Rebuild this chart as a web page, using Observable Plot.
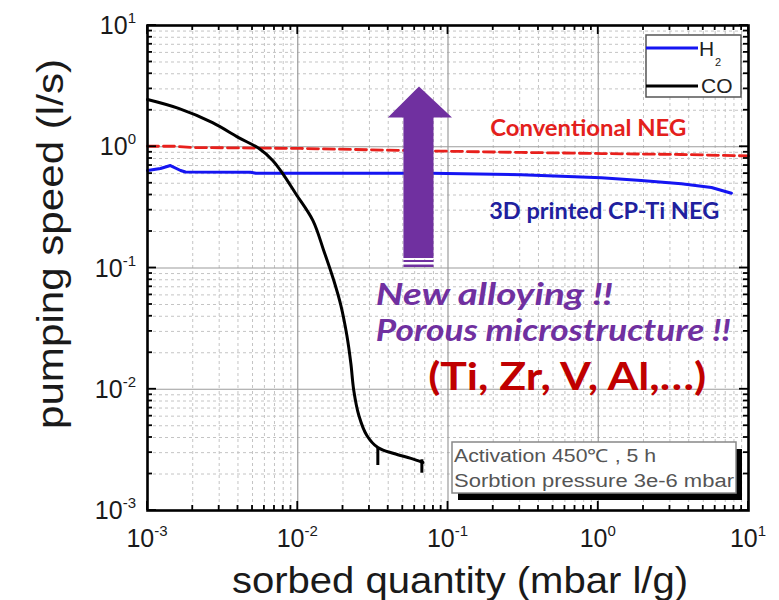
<!DOCTYPE html>
<html>
<head>
<meta charset="utf-8">
<script src="https://cdn.jsdelivr.net/npm/d3@7"></script>
<script src="https://cdn.jsdelivr.net/npm/@observablehq/plot@0.6"></script>
<style>
  body { margin: 0; background: #fff; }
  #chart { width: 779px; height: 600px; }
</style>
</head>
<body>
<div id="chart"></div>
<script>
// Decade exponents used for both log axes
const decadeExponents = [-3, -2, -1, 0, 1];
const minorSteps = [2, 3, 4, 5, 6, 7, 8, 9];

// CO pumping speed (l/s) vs sorbed quantity (mbar l/g)
const coQuantity = [0.001, 0.00161, 0.00271, 0.00404, 0.0055, 0.00681, 0.00794, 0.0097, 0.0126, 0.0149,
  0.01738, 0.01936, 0.02123, 0.02257, 0.0236, 0.02551, 0.02884, 0.03412, 0.04365, 0.05666, 0.06813];
const coSpeed = [2.45, 2.07, 1.58, 1.19, 0.97, 0.77, 0.60, 0.41, 0.247, 0.139,
  0.0788, 0.0491, 0.0277, 0.0163, 0.00977, 0.00608, 0.00416, 0.00331, 0.00295, 0.00269, 0.00249];

// Short drops at the end of the CO run
const coDropQuantity = [0.03412, 0.0670];
const coDropTop = [0.00331, 0.00262];
const coDropBottom = [0.00235, 0.00203];

// H2 on the 3D printed CP-Ti NEG
const h2Quantity = [0.001, 0.00122, 0.00142, 0.00166, 0.00179, 0.00486, 0.00525, 0.077, 0.307, 0.567, 1.047, 1.93, 3.57, 5.67, 7.70];
const h2Speed = [0.637, 0.662, 0.70, 0.637, 0.619, 0.617, 0.605, 0.605, 0.587, 0.572, 0.554, 0.527, 0.495, 0.461, 0.414];

// H2 on a conventional NEG
const convQuantity = [0.001, 0.0015, 0.00194, 0.0105, 0.077, 0.307, 1.05, 3.57, 10];
const convSpeed = [1.01, 1.01, 0.986, 0.968, 0.923, 0.898, 0.879, 0.863, 0.84];

const zip = (xs, ys) => xs.map((q, i) => ({q, s: ys[i]}));
const co = zip(coQuantity, coSpeed);
const h2 = zip(h2Quantity, h2Speed);
const conv = zip(convQuantity, convSpeed);
const coDrops = coDropQuantity.map((q, i) => ({q, top: coDropTop[i], bottom: coDropBottom[i]}));

const majors = decadeExponents.map(e => 10 ** e);
const minors = decadeExponents.slice(0, -1).flatMap(e => minorSteps.map(m => m * 10 ** e));

// Upward arrow (in data units): shaft, striped tail and head
const purple = "#7030a0";
const arrowShaft = [{x1: 0.0509, x2: 0.0807, y1: 0.1198, y2: 1.80}];
const arrowStripes = [
  {x1: 0.0509, x2: 0.0807, y1: 0.1110, y2: 0.1153},
  {x1: 0.0509, x2: 0.0807, y1: 0.1009, y2: 0.1058}
];
const arrowHead = [
  {q: 0.0398, s: 1.74}, {q: 0.0641, s: 3.14}, {q: 0.1063, s: 1.74}, {q: 0.0398, s: 1.74}
];

const calibriLike = "Lato, 'Open Sans', sans-serif";

// Annotation texts and the widths they are set to
const annotationWidths = {
  "Conventional NEG": 196,
  "3D printed CP-Ti NEG": 230,
  "New alloying !!": 237,
  "Porous microstructure !!": 355,
  "(Ti, Zr, V, Al,…)": 278
};

const plot = Plot.plot({
  width: 779,
  height: 600,
  marginLeft: 147,
  marginRight: 31,
  marginTop: 25,
  marginBottom: 90,
  x: {type: "log", domain: [1e-3, 10], axis: null},
  y: {type: "log", domain: [1e-3, 10], axis: null},
  style: {background: "white", overflow: "visible"},
  marks: [
    Plot.ruleX(minors, {stroke: "#c4c4c4", strokeDasharray: "3,3"}),
    Plot.ruleY(minors, {stroke: "#c4c4c4", strokeDasharray: "3,3"}),
    Plot.ruleX(majors, {stroke: "#9c9c9c", strokeWidth: 1.2}),
    Plot.ruleY(majors, {stroke: "#9c9c9c", strokeWidth: 1.2}),

    Plot.line(conv, {x: "q", y: "s", stroke: "#e8201c", strokeWidth: 2.8, strokeDasharray: "11,5"}),
    Plot.line(h2, {x: "q", y: "s", stroke: "#1515f2", strokeWidth: 3}),
    Plot.line(co, {x: "q", y: "s", stroke: "black", strokeWidth: 3, curve: "catmull-rom"}),
    Plot.ruleX(coDrops, {x: "q", y1: "top", y2: "bottom", stroke: "black", strokeWidth: 3}),

    Plot.rect(arrowShaft, {x1: "x1", x2: "x2", y1: "y1", y2: "y2", fill: purple}),
    Plot.rect(arrowStripes, {x1: "x1", x2: "x2", y1: "y1", y2: "y2", fill: purple}),
    Plot.line(arrowHead, {x: "q", y: "s", fill: purple, stroke: "none"}),

    Plot.text(["Conventional NEG"], {x: 0.858, y: 1.415, text: d => d, fill: "#e3201c",
      fontFamily: calibriLike, fontWeight: "bold", fontSize: 23}),
    Plot.text(["3D printed CP-Ti NEG"], {x: 1.096, y: 0.29, text: d => d, fill: "#20209e",
      fontFamily: calibriLike, fontWeight: "bold", fontSize: 23}),
    Plot.text(["New alloying !!"], {x: 0.0331, y: 0.0593, text: d => d, fill: purple, textAnchor: "start",
      fontFamily: calibriLike, fontWeight: "bold", fontStyle: "italic", fontSize: 31}),
    Plot.text(["Porous microstructure !!"], {x: 0.0331, y: 0.0300, text: d => d, fill: purple, textAnchor: "start",
      fontFamily: calibriLike, fontWeight: "bold", fontStyle: "italic", fontSize: 31}),
    Plot.text(["(Ti, Zr, V, Al,…)"], {x: 0.621, y: 0.01239, text: d => d, fill: "#c00000",
      fontFamily: calibriLike, fontWeight: "bold", fontSize: 38}),

    Plot.frame({stroke: "black", strokeWidth: 2.6})
  ]
});

document.getElementById("chart").append(plot);

const svg = d3.select(plot);
svg.selectAll("text").each(function () {
  const w = annotationWidths[this.textContent];
  if (w) d3.select(this).attr("textLength", w).attr("lengthAdjust", "spacingAndGlyphs");
});

// Ticks, tick labels, titles, legend and the note box, placed with the plot's scales
const sx = plot.scale("x"), sy = plot.scale("y");
const L = sx.apply(1e-3), R = sx.apply(10), B = sy.apply(1e-3), T = sy.apply(10);

const ticks = svg.append("g").attr("stroke", "black").attr("stroke-width", 1.8);
const tickLen = v => (majors.includes(v) ? 9 : 5);
for (const v of majors.concat(minors)) {
  const X = sx.apply(v), Y = sy.apply(v), len = tickLen(v);
  ticks.append("line").attr("x1", X).attr("x2", X).attr("y1", B).attr("y2", B - len);
  ticks.append("line").attr("x1", X).attr("x2", X).attr("y1", T).attr("y2", T + len);
  ticks.append("line").attr("y1", Y).attr("y2", Y).attr("x1", L).attr("x2", L + len);
  ticks.append("line").attr("y1", Y).attr("y2", Y).attr("x1", R).attr("x2", R - len);
}

const axisFont = "'Liberation Sans', Arial, sans-serif";
const labels = svg.append("g").attr("font-family", axisFont).attr("fill", "#1a1a1a");
for (const e of decadeExponents) {
  const yl = labels.append("text").attr("x", L - 11).attr("y", sy.apply(10 ** e) + 9)
    .attr("text-anchor", "end").attr("font-size", 25);
  yl.append("tspan").text("10");
  yl.append("tspan").attr("dy", -11).attr("font-size", 15).text(e);
  const xl = labels.append("text").attr("x", sx.apply(10 ** e)).attr("y", 547)
    .attr("text-anchor", "middle").attr("font-size", 25);
  xl.append("tspan").text("10");
  xl.append("tspan").attr("dy", -11).attr("font-size", 15).text(e);
}

labels.append("text").attr("x", 460).attr("y", 593).attr("text-anchor", "middle")
  .attr("font-size", 37).attr("textLength", 456).attr("lengthAdjust", "spacingAndGlyphs")
  .text("sorbed quantity (mbar l/g)");
labels.append("text").attr("transform", "translate(63,244) rotate(-90)").attr("text-anchor", "middle")
  .attr("font-size", 37).attr("textLength", 370).attr("lengthAdjust", "spacingAndGlyphs")
  .text("pumping speed (l/s)");

// Legend
const legend = svg.append("g").attr("font-family", axisFont).attr("text-anchor", "start");
legend.append("rect").attr("x", 646).attr("y", 35).attr("width", 95).attr("height", 62)
  .attr("fill", "white").attr("stroke", "#555").attr("stroke-width", 1.5);
legend.append("line").attr("x1", 646).attr("x2", 698).attr("y1", 48).attr("y2", 48)
  .attr("stroke", "#1515f2").attr("stroke-width", 3);
legend.append("line").attr("x1", 646).attr("x2", 698).attr("y1", 86).attr("y2", 86)
  .attr("stroke", "black").attr("stroke-width", 3);
legend.append("text").attr("x", 699).attr("y", 56).attr("font-size", 21).attr("fill", "#222").text("H");
legend.append("text").attr("x", 715).attr("y", 66).attr("font-size", 11).attr("fill", "#222").text("2");
legend.append("text").attr("x", 701).attr("y", 93).attr("font-size", 21).attr("fill", "#222").text("CO");

// Measurement conditions box with drop shadow
const note = svg.append("g").attr("font-family", axisFont).attr("text-anchor", "start");
note.append("rect").attr("x", 458).attr("y", 449).attr("width", 284).attr("height", 51).attr("fill", "black");
note.append("rect").attr("x", 452).attr("y", 442).attr("width", 284).attr("height", 51)
  .attr("fill", "white").attr("stroke", "#888").attr("stroke-width", 1.5);
note.append("text").attr("x", 454).attr("y", 462).attr("font-size", 18).attr("fill", "#555")
  .attr("textLength", 202).attr("lengthAdjust", "spacingAndGlyphs").text("Activation 450℃ , 5 h");
note.append("text").attr("x", 454).attr("y", 487).attr("font-size", 18).attr("fill", "#555")
  .attr("textLength", 280).attr("lengthAdjust", "spacingAndGlyphs").text("Sorbtion pressure 3e-6 mbar");
</script>
</body>
</html>
